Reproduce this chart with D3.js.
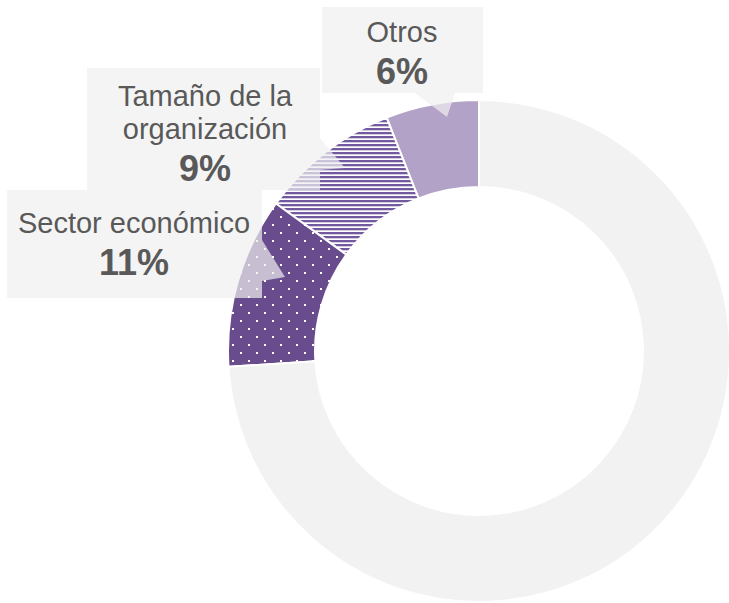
<!DOCTYPE html>
<html>
<head>
<meta charset="utf-8">
<script src="https://cdn.jsdelivr.net/npm/d3@7"></script>
<style>
  html, body { margin: 0; padding: 0; background: #ffffff; }
  svg { display: block; }
</style>
</head>
<body>
<svg class="target"></svg>
<script>
// data (counter-clockwise from 12 o'clock)
const categories = ["Otros", "Tamaño de la organización", "Sector económico", "Resto"];
const values = [6, 9, 11, 74];
const labelLines = [["Otros"], ["Tamaño de la", "organización"], ["Sector económico"], null];

document.addEventListener("DOMContentLoaded", function() {
    drawChart();
});

function drawChart() {
    const width = 729;
    const height = 603;
    const svg = d3.select(".target")
        .attr("width", width)
        .attr("height", height)
        .attr("viewBox", [0, 0, width, height]);

    const defs = svg.append("defs");

    // dotted fill for "Sector económico"
    const dots = defs.append("pattern")
        .attr("id", "dots")
        .attr("patternUnits", "userSpaceOnUse")
        .attr("width", 16).attr("height", 16);
    dots.append("rect").attr("width", 16).attr("height", 16).attr("fill", "#684c8e");
    dots.append("rect").attr("x", 1).attr("y", 1).attr("width", 2).attr("height", 2).attr("fill", "#ffffff");
    dots.append("rect").attr("x", 9).attr("y", 9).attr("width", 2).attr("height", 2).attr("fill", "#ffffff");

    // horizontal stripes for "Tamaño de la organización"
    const stripes = defs.append("pattern")
        .attr("id", "stripes")
        .attr("patternUnits", "userSpaceOnUse")
        .attr("width", 8).attr("height", 4);
    stripes.append("rect").attr("width", 8).attr("height", 4).attr("fill", "#ffffff");
    stripes.append("rect").attr("y", 1).attr("width", 8).attr("height", 2.3).attr("fill", "#7259a0");

    const fills = ["#b3a2c8", "url(#stripes)", "url(#dots)", "#f2f2f2"];

    const cx = 479, cy = 351;
    const outerR = 251, innerR = 164;

    const pie = d3.pie()
        .sort(null)
        .startAngle(0)
        .endAngle(-2 * Math.PI)
        .value(d => d);

    const arc = d3.arc()
        .innerRadius(innerR)
        .outerRadius(outerR);

    const g = svg.append("g").attr("transform", "translate(" + cx + "," + cy + ")");

    g.selectAll("path")
        .data(pie(values))
        .enter()
        .append("path")
        .attr("d", arc)
        .attr("fill", (d, i) => fills[i])
        .attr("stroke", "#ffffff")
        .attr("stroke-width", 2)
        .attr("stroke-linejoin", "round");

    // callout boxes (layout only)
    const callouts = [
        { path: "M322,7 H483 V93 H455 L447,117 L415,93 H322 Z", x: 402, y: 42 },
        { path: "M87,68 H320 V138 L345,168 L320,170 V190 H87 Z", x: 205, y: 106 },
        { path: "M7,190 H262 V240 L285,277 L262,281 V298 H7 Z", x: 134, y: 233 }
    ];

    const fmt = d3.format(".0f");

    callouts.forEach(function(c, i) {
        svg.append("path")
            .attr("d", c.path)
            .attr("fill", "#efefef")
            .attr("fill-opacity", 0.7);

        const t = svg.append("text")
            .attr("text-anchor", "middle")
            .attr("fill", "#595959")
            .style("font-family", "'Liberation Sans', Arial, sans-serif");

        const lines = labelLines[i];
        lines.forEach(function(line, j) {
            t.append("tspan")
                .attr("x", c.x)
                .attr("y", c.y + j * 33)
                .style("font-size", "29px")
                .text(line);
        });
        t.append("tspan")
            .attr("x", c.x)
            .attr("y", c.y + (lines.length - 1) * 33 + 42)
            .style("font-size", "36px")
            .style("font-weight", "bold")
            .text(fmt(values[i]) + "%");
    });
}
</script>
</body>
</html>
